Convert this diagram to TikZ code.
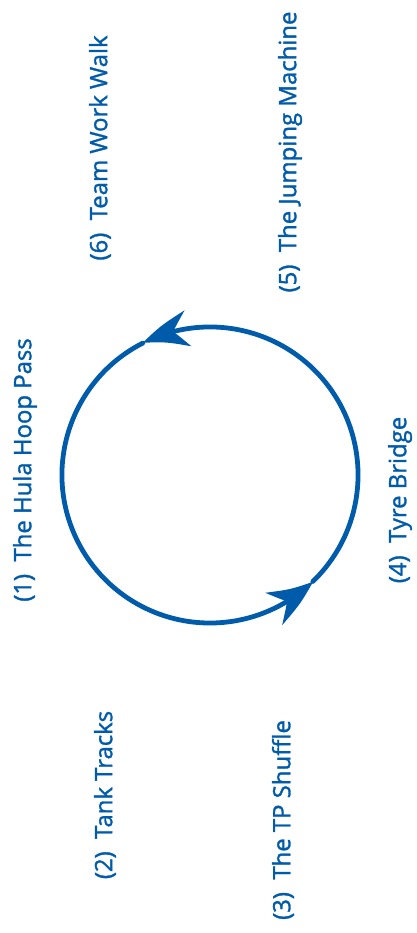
\documentclass[tikz,border=0pt]{standalone}
\usepackage{fontspec}
\setmainfont{Open Sans}
\newfontfamily\postenschrift{Open Sans}[FakeBold=1.3]
\usetikzlibrary{arrows.meta,bending}
\definecolor{kreisblau}{RGB}{0,91,170}
\begin{document}
\begin{tikzpicture}[x=.025cm,y=.025cm,line cap=round,
  ring/.style={draw=kreisblau,line width=3.4pt,-{Stealth[length=1.2cm,width=.9cm,inset=.38cm,bend]}},
  posten/.style={font=\postenschrift\fontsize{17}{20}\selectfont,text=kreisblau,rotate=90,inner sep=0pt}]
\useasboundingbox (0,0) rectangle (416,933);
\coordinate (mitte) at (210,458);
% Kreis aus zwei Boegen, jeder mit seiner Pfeilspitze.
\draw[ring] ([shift={(-46:3.7cm)}]mitte) arc[start angle=-46,end angle=117,radius=3.7cm];
\draw[ring] ([shift={(117:3.7cm)}]mitte) arc[start angle=117,end angle=314,radius=3.7cm];
% Die sechs Stationen, senkrecht gesetzt.
\node[posten] (station1) at (25,463){(1)\ \ The Hula Hoop Pass};
\node[posten] (station2) at (105,138){(2)\ \ Tank Tracks};
\node[posten] (station3) at (283,113){(3)\ \ The TP Shuffle};
\node[posten] (station4) at (400,433){(4)\ \ Tyre Bridge};
\node[posten] (station5) at (290,781){(5)\ \ The Jumping Machine};
\node[posten] (station6) at (100,785){(6)\ \ Team Work Walk};
\end{tikzpicture}
\end{document}
